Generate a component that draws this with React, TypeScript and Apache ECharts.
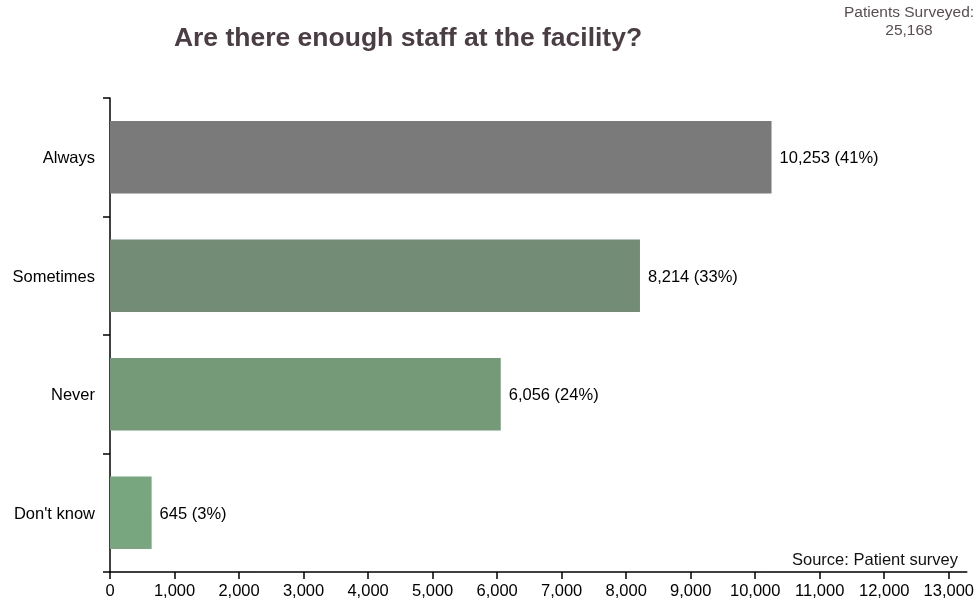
import React, { useEffect, useRef } from "react";
import * as echarts from "echarts";

const categories = ["Always", "Sometimes", "Never", "Don't know"];
const counts = [10253, 8214, 6056, 645];
const percents = [41, 33, 24, 3];
const barColors = ["#7a7a7a", "#738c76", "#749a77", "#78a67f"];
const totalSurveyed = "25,168";
const titleText = "Are there enough staff at the facility?";
const sourceText = "Source: Patient survey";

const fmt = (v: number) => v.toLocaleString("en-US");

export default function App() {
  const ref = useRef<HTMLDivElement>(null);
  useEffect(() => {
    if (!ref.current) return;
    const chart = echarts.init(ref.current, null, { renderer: "svg" });
    const font = "'Liberation Sans', Arial, Helvetica, sans-serif";
    chart.setOption({
      animation: false,
      textStyle: { fontFamily: font },
      title: [
        {
          text: titleText,
          left: 403,
          top: 18,
          textAlign: "center",
          textStyle: { fontSize: 26.5, fontWeight: "bold", color: "#4a3d43", fontFamily: font },
        },
        {
          text: "Patients Surveyed:\n" + totalSurveyed,
          left: 904,
          top: -3,
          textAlign: "center",
          textStyle: { fontSize: 15.5, fontWeight: "normal", color: "#5a4d50", lineHeight: 18, fontFamily: font },
        },
        {
          text: sourceText,
          right: 14,
          top: 545,
          textStyle: { fontSize: 16.5, fontWeight: "normal", color: "#111", fontFamily: font },
        },
      ],
      grid: { left: 110, right: 8, top: 98, bottom: 31, containLabel: false },
      xAxis: {
        type: "value",
        min: 0,
        max: 13280,
        interval: 1000,
        axisLine: { show: true, lineStyle: { color: "#000", width: 1.5 } },
        axisTick: { show: true, length: 7, lineStyle: { color: "#000", width: 1.5 } },
        axisLabel: {
          color: "#000",
          fontSize: 16.5,
          margin: 9,
          showMaxLabel: false,
          formatter: (v: number) => fmt(v),
          fontFamily: font,
        },
        splitLine: { show: false },
      },
      yAxis: {
        type: "category",
        data: categories,
        inverse: true,
        axisLine: { show: true, lineStyle: { color: "#000", width: 1.5 } },
        axisTick: { show: true, length: 7, lineStyle: { color: "#000", width: 1.5 } },
        axisLabel: { color: "#000", fontSize: 16.5, margin: 15, fontFamily: font },
      },
      series: [
        {
          type: "bar",
          data: counts.map((v, i) => ({ value: v, itemStyle: { color: barColors[i] } })),
          barWidth: "61%",
          label: {
            show: true,
            position: "right",
            distance: 8,
            color: "#000",
            fontSize: 16.5,
            fontFamily: font,
            formatter: (p: any) => `${fmt(p.value)} (${percents[p.dataIndex]}%)`,
          },
        },
      ],
    });
    return () => chart.dispose();
  }, []);
  return <div ref={ref} style={{ width: 977, height: 603, position: "fixed", left: 0, top: 0 }} />;
}
